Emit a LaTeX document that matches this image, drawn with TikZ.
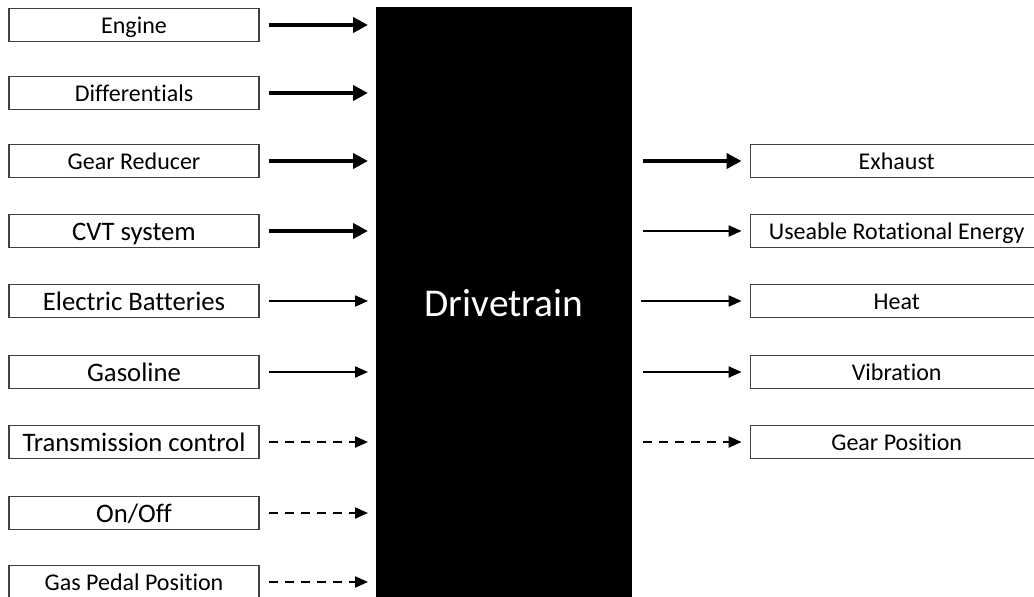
\documentclass[tikz,border=0pt]{standalone}
\usepackage{fontspec}
\setmainfont{Carlito}[Ligatures=NoCommon]
\usetikzlibrary{arrows.meta}
\begin{document}
\begin{tikzpicture}[x=1pt,y=-1pt,
  lbox/.style={draw=black!75,line width=1.2pt,minimum width=250pt,minimum height=33pt,inner sep=0pt,
    text height=22pt,text depth=6pt,font=\fontsize{24}{26}\selectfont},
  lboxbig/.style={lbox,text height=24pt,text depth=5pt,font=\fontsize{26.7}{28}\selectfont},
  rbox/.style={lbox,minimum width=293pt,anchor=west},
  thickarr/.style={line width=4pt,-{Triangle[length=15pt,width=15pt]},shorten <=9pt,shorten >=8pt},
  thinarr/.style={line width=2pt,-{Triangle[length=13pt,width=11pt]},shorten <=9pt,shorten >=8pt},
  dasharr/.style={thinarr,dash pattern=on 9pt off 7pt}]
\useasboundingbox (0,0) rectangle (1034,597);
\clip (0,0) rectangle (1034,597);
\node[fill=black,minimum width=256pt,minimum height=600pt,inner sep=0pt,anchor=north west] (dt) at (376,7) {};
\node[text=white,font=\fontsize{39.4}{42}\selectfont] (dtl) at (504,303) {Drivetrain};
\coordinate (dtw) at (376,0);
\coordinate (dte) at (632,0);
% inputs
\node[lbox]    (i1) at (134,25)  {Engine};
\node[lbox]    (i2) at (134,93)  {Differentials};
\node[lbox]    (i3) at (134,161) {Gear Reducer};
\node[lboxbig] (i4) at (134,231) {CVT system};
\node[lboxbig] (i5) at (134,301) {Electric Batteries};
\node[lboxbig] (i6) at (134,372) {Gasoline};
\node[lboxbig] (i7) at (134,442) {Transmission control};
\node[lboxbig] (i8) at (134,513) {On/Off};
\node[lbox]    (i9) at (134,582) {Gas Pedal Position};
\draw[thickarr] (i1.east) -- (i1.east -| dtw);
\draw[thickarr] (i2.east) -- (i2.east -| dtw);
\draw[thickarr] (i3.east) -- (i3.east -| dtw);
\draw[thickarr] (i4.east) -- (i4.east -| dtw);
\draw[thinarr] (i5.east) -- (i5.east -| dtw);
\draw[thinarr] (i6.east) -- (i6.east -| dtw);
\draw[dasharr] (i7.east) -- (i7.east -| dtw);
\draw[dasharr] (i8.east) -- (i8.east -| dtw);
\draw[dasharr] (i9.east) -- (i9.east -| dtw);
% outputs
\node[rbox] (o1) at (749.6,161) {Exhaust};
\node[rbox] (o2) at (749.6,231) {Useable Rotational Energy};
\node[rbox] (o3) at (749.6,301) {Heat};
\node[rbox] (o4) at (749.6,372) {Vibration};
\node[rbox] (o5) at (749.6,442) {Gear Position};
\draw[thickarr,shorten <=11pt] (o1.west -| dte) -- (o1.west);
\draw[thinarr,shorten <=11pt] (o2.west -| dte) -- (o2.west);
\draw[thinarr,shorten <=9pt] (o3.west -| dte) -- (o3.west);
\draw[thinarr,shorten <=11pt] (o4.west -| dte) -- (o4.west);
\draw[dasharr,shorten <=11pt] (o5.west -| dte) -- (o5.west);
\end{tikzpicture}
\end{document}
